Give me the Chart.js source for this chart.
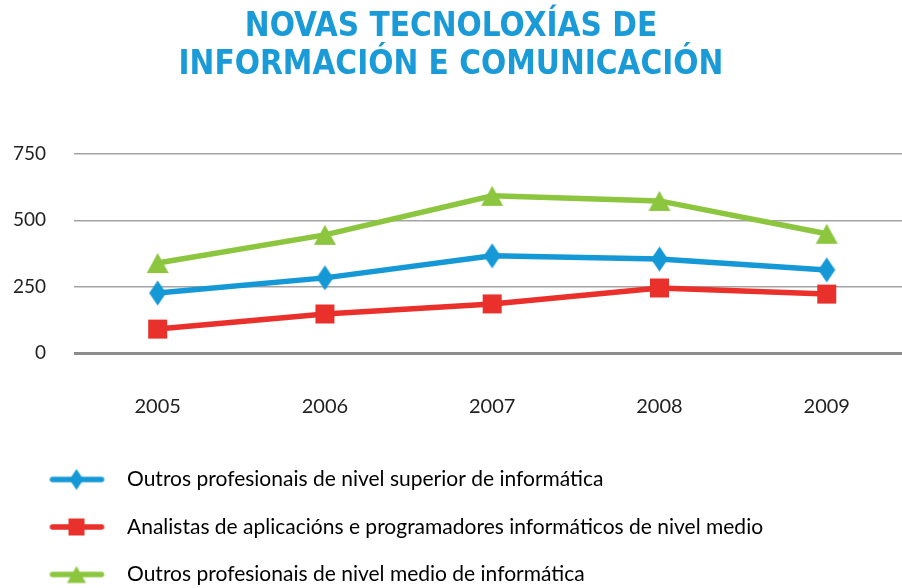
<!DOCTYPE html>
<html>
<head>
<meta charset="utf-8">
<title>Novas tecnoloxías de información e comunicación</title>
<script src="https://cdn.jsdelivr.net/npm/chart.js"></script>
<style>
    html, body { margin: 0; padding: 0; background: #fff; overflow: hidden; }
    .wrap { position: relative; width: 902px; height: 595px; }
</style>
</head>
<body>
<div class="wrap"><canvas id="chart"></canvas></div>
<script>
const years = ['2005', '2006', '2007', '2008', '2009'];
const yTicks = [0, 250, 500, 750];
const superior = [226, 283, 366, 354, 313];
const analistas = [90, 147, 185, 245, 222];
const medio = [339, 445, 592, 573, 449];
const seriesNames = [
    'Outros profesionais de nivel superior de informática',
    'Analistas de aplicacións e programadores informáticos de nivel medio',
    'Outros profesionais de nivel medio de informática'
];

const BLUE = '#1598d6';
const RED = '#e9302a';
const GREEN = '#8cc63f';

function drawShape(ctx, shape, color, cx, cy, w, h) {
    ctx.fillStyle = color;
    ctx.beginPath();
    if (shape === 'diamond') {
        ctx.moveTo(cx, cy - h / 2);
        ctx.lineTo(cx + w / 2, cy);
        ctx.lineTo(cx, cy + h / 2);
        ctx.lineTo(cx - w / 2, cy);
    } else if (shape === 'square') {
        ctx.rect(cx - w / 2, cy - h / 2, w, h);
    } else {
        ctx.moveTo(cx, cy - h / 2);
        ctx.lineTo(cx + w / 2, cy + h / 2);
        ctx.lineTo(cx - w / 2, cy + h / 2);
    }
    ctx.closePath();
    ctx.fill();
}

// marker used on the data points
function marker(shape, color, w, h) {
    const c = document.createElement('canvas');
    c.width = w + 2;
    c.height = h + 2;
    drawShape(c.getContext('2d'), shape, color, c.width / 2, c.height / 2, w, h);
    return c;
}

// legend sample: short thick line with the marker on it
function legendMark(shape, color, w, h) {
    const c = document.createElement('canvas');
    c.width = 90;
    c.height = 26;
    const ctx = c.getContext('2d');
    ctx.strokeStyle = color;
    ctx.lineWidth = 5.5;
    ctx.lineCap = 'round';
    ctx.beginPath();
    ctx.moveTo(26, 13);
    ctx.lineTo(75, 13);
    ctx.stroke();
    drawShape(ctx, shape, color, 50, 13, w, h);
    return c;
}

const shapes = [
    { color: BLUE, point: marker('diamond', BLUE, 17, 25), legend: legendMark('diamond', BLUE, 14, 21) },
    { color: RED, point: marker('square', RED, 19, 19), legend: legendMark('square', RED, 16, 17) },
    { color: GREEN, point: marker('triangle', GREEN, 22, 20), legend: legendMark('triangle', GREEN, 19, 17) }
];

const values = [superior, analistas, medio];

const datasets = values.map((vals, i) => ({
    label: seriesNames[i],
    data: vals.map((v, j) => ({ x: Number(years[j]), y: v })),
    borderColor: shapes[i].color,
    backgroundColor: shapes[i].color,
    borderWidth: 5.5,
    tension: 0,
    pointStyle: shapes[i].point,
    pointRadius: 10,
    pointHoverRadius: 10
}));

new Chart(document.getElementById('chart'), {
    type: 'line',
    data: { datasets: datasets },
    options: {
        responsive: true,
        maintainAspectRatio: false,
        animation: false,
        layout: { padding: 0, autoPadding: false },
        plugins: {
            title: {
                display: true,
                text: ['NOVAS TECNOLOXÍAS DE', 'INFORMACIÓN E COMUNICACIÓN'],
                color: '#1a9ad7',
                font: { family: '"DejaVu Sans Condensed", "DejaVu Sans"', size: 33, weight: 'bold', lineHeight: 1.15 },
                padding: { top: 8, bottom: 70 }
            },
            legend: {
                position: 'bottom',
                align: 'start',
                labels: {
                    color: '#222',
                    font: { family: 'Lato', size: 21 },
                    padding: 26.5,
                    usePointStyle: true,
                    pointStyleWidth: 90,
                    generateLabels: (chart) => chart.data.datasets.map((ds, i) => ({
                        text: ds.label,
                        pointStyle: shapes[i].legend,
                        fillStyle: shapes[i].color,
                        strokeStyle: shapes[i].color,
                        lineWidth: 0,
                        datasetIndex: i
                    }))
                }
            },
            tooltip: { enabled: false }
        },
        scales: {
            x: {
                type: 'linear',
                min: 2004.5,
                max: 2009.45,
                grid: { display: false },
                border: { display: false },
                ticks: {
                    stepSize: 1,
                    includeBounds: false,
                    padding: 34,
                    color: '#222',
                    font: { family: 'Lato', size: 20 },
                    callback: (v) => {
                        const k = years.indexOf(String(v));
                        return k >= 0 ? years[k] : '';
                    }
                },
                afterFit: (s) => {
                    s.height = 89.5;
                    s.paddingLeft = 0;
                    s.paddingRight = 0;
                }
            },
            y: {
                min: yTicks[0],
                max: yTicks[yTicks.length - 1],
                border: { display: false },
                grid: {
                    color: (c) => c.tick && c.tick.value === 0 ? '#8c8c8c' : '#a3a3a3',
                    lineWidth: (c) => c.tick && c.tick.value === 0 ? 3 : 1.5,
                    drawTicks: false
                },
                afterBuildTicks: (s) => { s.ticks = yTicks.map((v) => ({ value: v })); },
                ticks: {
                    padding: 28,
                    color: '#222',
                    font: { family: 'Lato', size: 19 }
                },
                afterFit: (s) => { s.width = 74; }
            }
        }
    }
});
</script>
</body>
</html>
